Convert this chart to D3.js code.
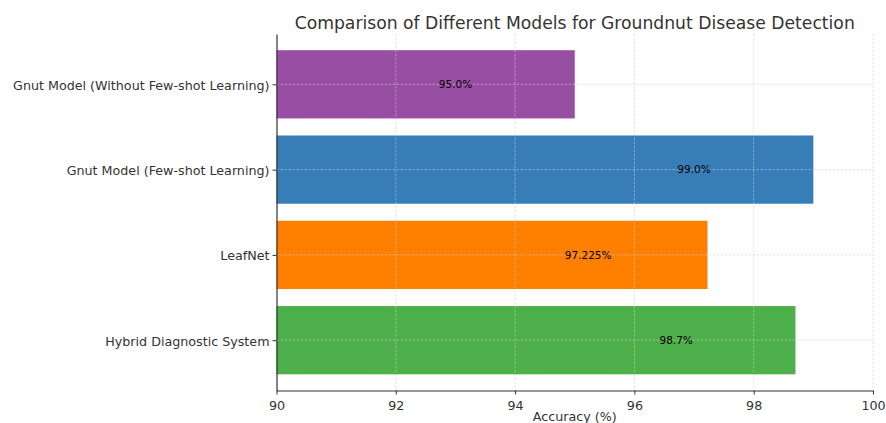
<!DOCTYPE html>
<html>
<head>
<meta charset="utf-8">
<script src="https://cdn.jsdelivr.net/npm/d3@7"></script>
<style>
  body { margin: 0; background: #fff; }
  svg { display: block; font-family: "DejaVu Sans", sans-serif; }
</style>
</head>
<body>
<svg id="chart" width="886" height="423"></svg>
<script>
// Model names, top to bottom
const models = [
  "Gnut Model (Without Few-shot Learning)",
  "Gnut Model (Few-shot Learning)",
  "LeafNet",
  "Hybrid Diagnostic System"
];
// Accuracy (%) for each model
const accuracy = [95.0, 99.0, 97.225, 98.7];
// Bar colours per model
const colors = ["#984ea3", "#377eb8", "#ff7f00", "#4daf4a"];
// Text printed on each bar
const valueLabels = ["95.0%", "99.0%", "97.225%", "98.7%"];
const xTicks = [90, 92, 94, 96, 98, 100];

const svg = d3.select("#chart");
const margin = { left: 276.5, right: 13, top: 34, bottom: 32.5 };
const W = 886, H = 423;

const x = d3.scaleLinear().domain([90, 100]).range([margin.left, W - margin.right]);
// Positional scale: index 0 at top, half-unit margins like a category axis
const y = d3.scaleLinear().domain([-0.59, 3.59]).range([margin.top, H - margin.bottom]);
const barH = y(0.4) - y(0);

const data = models.map((m, i) => ({ name: m, value: accuracy[i], color: colors[i], label: valueLabels[i], i }));

// bars
svg.append("g").selectAll("rect").data(data).join("rect")
  .attr("x", x(90))
  .attr("y", d => y(d.i) - barH)
  .attr("width", d => x(d.value) - x(90))
  .attr("height", 2 * barH)
  .attr("fill", d => d.color);

// dashed grid on top of bars
const grid = svg.append("g").attr("stroke", "#cfcfcf").attr("stroke-width", 0.7)
  .attr("stroke-dasharray", "2.5,1.5").attr("opacity", 0.8);
grid.selectAll("line.gx").data(xTicks.slice(1)).join("line")
  .attr("x1", d => x(d)).attr("x2", d => x(d))
  .attr("y1", margin.top).attr("y2", H - margin.bottom);
grid.selectAll("line.gy").data(data).join("line")
  .attr("x1", x(90)).attr("x2", x(100))
  .attr("y1", d => y(d.i)).attr("y2", d => y(d.i));

// value labels
svg.append("g").selectAll("text").data(data).join("text")
  .attr("x", d => x(d.value - 2))
  .attr("y", d => y(d.i))
  .attr("dy", "0.35em")
  .attr("text-anchor", "middle")
  .attr("font-size", 10.5)
  .attr("fill", "#000")
  .text(d => d.label);

// x axis
const xAxis = svg.append("g")
  .attr("transform", `translate(0,${H - margin.bottom})`)
  .call(d3.axisBottom(x).tickValues(xTicks).tickFormat(d3.format("d")).tickSize(4).tickSizeOuter(0));
xAxis.select(".domain").attr("stroke", "#333").attr("stroke-width", 1.2);
xAxis.selectAll(".tick line").attr("stroke", "#333");
xAxis.selectAll(".tick text").attr("font-size", 12.7).attr("fill", "#333").attr("dy", "0.95em")
  .attr("font-family", "DejaVu Sans");

// y axis
const yAxis = svg.append("g")
  .attr("transform", `translate(${margin.left},0)`)
  .call(d3.axisLeft(y).tickValues(d3.range(models.length)).tickFormat(i => models[i]).tickSize(4).tickSizeOuter(0));
yAxis.select(".domain").attr("stroke", "#333").attr("stroke-width", 1.2);
yAxis.selectAll(".tick line").attr("stroke", "#333");
yAxis.selectAll(".tick text").attr("font-size", 12.7).attr("fill", "#333").attr("dy", "0.38em")
  .attr("font-family", "DejaVu Sans");

// axis title
svg.append("text")
  .attr("x", (x(90) + x(100)) / 2)
  .attr("y", 421)
  .attr("text-anchor", "middle")
  .attr("font-size", 12.7)
  .attr("fill", "#333")
  .text("Accuracy (%)");

// chart title
svg.append("text")
  .attr("x", (x(90) + x(100)) / 2)
  .attr("y", 29)
  .attr("text-anchor", "middle")
  .attr("font-size", 17.2)
  .attr("fill", "#333")
  .text("Comparison of Different Models for Groundnut Disease Detection");
</script>
</body>
</html>
